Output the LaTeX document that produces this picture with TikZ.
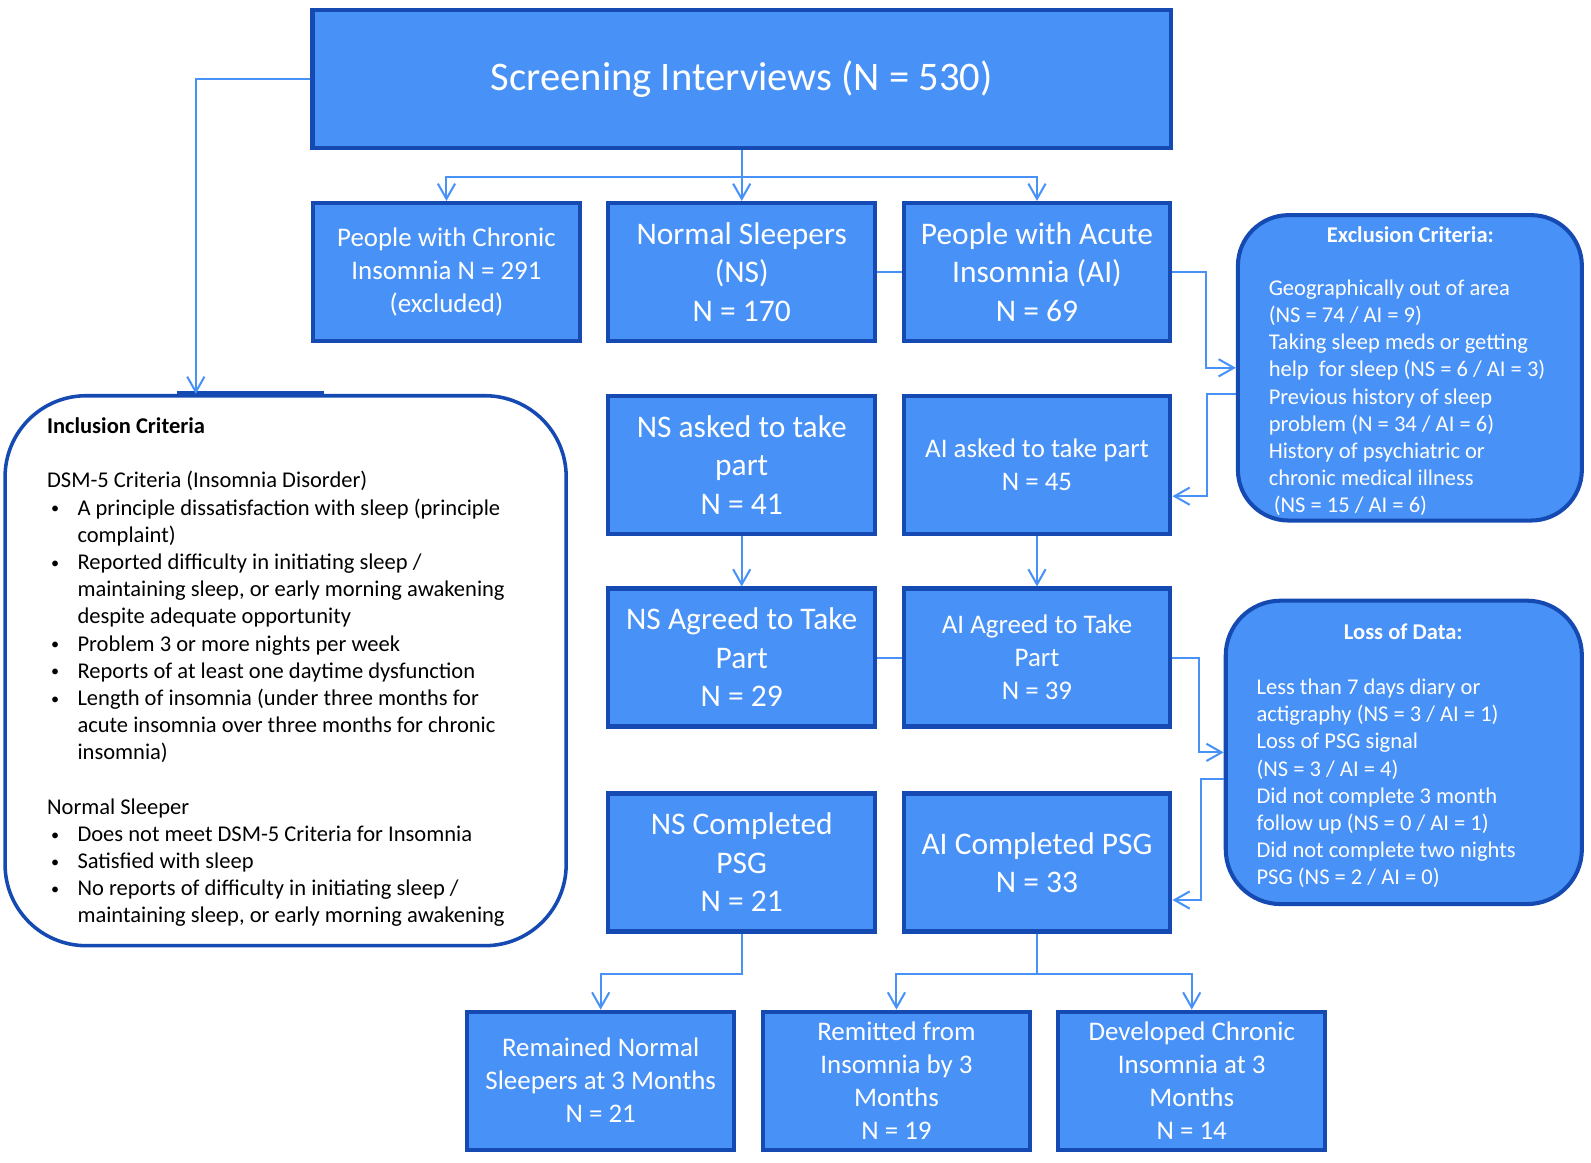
\documentclass[tikz,border=0pt]{standalone}
\usepackage{fontspec}
\setmainfont{Carlito}
\usetikzlibrary{arrows.meta,calc}
\definecolor{boxfill}{RGB}{72,145,246}
\definecolor{boxline}{RGB}{22,74,179}
\definecolor{connc}{RGB}{72,145,246}
\newcommand{\incbul}{\makebox[15pt][l]{\hspace*{2pt}\raisebox{0.6pt}{\fontsize{8pt}{8pt}\selectfont•}}}
\newcommand{\incind}{\hspace*{15pt}}
\begin{document}
\begin{tikzpicture}[x=0.5pt,y=-0.5pt,
  box/.style={draw=boxline, fill=boxfill, line width=2pt, minimum width=131.5pt, minimum height=68pt, inner sep=0pt, text=white, align=center},
  bigtxt/.style={font=\fontsize{15.5pt}{19pt}\selectfont},
  smalltxt/.style={font=\fontsize{13.25pt}{16.25pt}\selectfont},
  side/.style={draw=boxline, fill=boxfill, line width=2pt, rounded corners=25pt},
  sidetitle/.style={text=white, font=\fontsize{11.1pt}{13.4pt}\selectfont\bfseries, inner sep=0pt},
  sidetext/.style={text=white, font=\fontsize{11.1pt}{13.4pt}\selectfont, align=left, inner sep=0pt},
  conn/.style={draw=connc, line width=1pt},
  arr/.style={conn, -{Straight Barb[length=7.5pt,width=8.5pt]}}]
\useasboundingbox (0,0) rectangle (1568,1146);

% main boxes
\node[box, minimum width=423pt, font=\fontsize{20pt}{24pt}\selectfont] (scr) at (731,78) {\raisebox{-1pt}{Screening Interviews (N = 530)}};
\node[box, smalltxt] (chr) at (440,268) {People with Chronic\\Insomnia N = 291\\(excluded)};
\node[box, bigtxt] (ns) at (731,268) {Normal Sleepers\\(NS)\\N = 170};
\node[box, bigtxt] (ai) at (1022,268) {People with Acute\\Insomnia (AI)\\N = 69};
\node[box, bigtxt] (nsask) at (731,458) {NS asked to take\\part\\N = 41};
\node[box, smalltxt] (aiask) at (1022,458) {AI asked to take part\\N = 45};
\node[box, bigtxt] (nsagr) at (731,648) {NS Agreed to Take\\Part\\N = 29};
\node[box, smalltxt] (aiagr) at (1022,648) {AI Agreed to Take\\Part\\N = 39};
\node[box, bigtxt] (nscomp) at (731,850) {NS Completed\\PSG\\N = 21};
\node[box, bigtxt] (aicomp) at (1022,850) {AI Completed PSG\\N = 33};
\node[box, smalltxt] (rem) at (592,1065) {Remained Normal\\Sleepers at 3 Months\\N = 21};
\node[box, smalltxt] (remit) at (883.5,1065) {Remitted from\\Insomnia by 3\\Months\\N = 19};
\node[box, smalltxt] (dev) at (1174.5,1065) {Developed Chronic\\Insomnia at 3\\Months\\N = 14};

% exclusion criteria
\node[side, minimum width=169.5pt, minimum height=150.5pt] (exc) at (1389.5,362.5) {};
\node[sidetitle] (exct) at (1390,231) {Exclusion Criteria:};
\node[sidetext, anchor=west] (excl) at (1250,392) {Geographically out of area\\(NS = 74 / AI = 9)\\Taking sleep meds or getting\\help\ \ for sleep (NS = 6 / AI = 3)\\Previous history of sleep\\problem (N = 34 / AI = 6)\\History of psychiatric or\\chronic medical illness\\\hspace*{2.5pt}(NS = 15 / AI = 6)};

% loss of data
\node[side, rounded corners=27pt, minimum width=175.5pt, minimum height=149.5pt] (loss) at (1383.5,741.5) {};
\node[sidetitle] (losst) at (1383,623) {Loss of Data:};
\node[sidetext, anchor=west] (lossl) at (1238,772) {Less than 7 days diary or\\actigraphy (NS = 3 / AI = 1)\\Loss of PSG signal\\(NS = 3 / AI = 4)\\Did not complete 3 month\\follow up (NS = 0 / AI = 1)\\Did not complete two nights\\PSG (NS = 2 / AI = 0)};

% inclusion criteria
\node[draw=boxline, line width=1.75pt, fill=white, rounded corners=40pt, minimum width=276.5pt, minimum height=271pt] (inc) at (281.5,661) {};
\draw[boxline, line width=2.75pt] ($(inc.north)+(-107.5,0)$) -- ($(inc.north)+(37.5,0)$);
\node[anchor=west, align=left, inner sep=0pt, font=\fontsize{11.1pt}{13.4pt}\selectfont] (incl) at (46,662.5) {\textbf{Inclusion Criteria}\\
\mbox{}\\
DSM-5 Criteria (Insomnia Disorder)\\
\incbul A principle dissatisfaction with sleep (principle\\
\incind complaint)\\
\incbul Reported difficulty in initiating sleep /\\
\incind maintaining sleep, or early morning awakening\\
\incind despite adequate opportunity\\
\incbul Problem 3 or more nights per week\\
\incbul Reports of at least one daytime dysfunction\\
\incbul Length of insomnia (under three months for\\
\incind acute insomnia over three months for chronic\\
\incind insomnia)\\
\mbox{}\\
Normal Sleeper\\
\incbul Does not meet DSM-5 Criteria for Insomnia\\
\incbul Satisfied with sleep\\
\incbul No reports of difficulty in initiating sleep /\\
\incind maintaining sleep, or early morning awakening};

% connectors
\coordinate (incx) at (193,0);
\draw[arr] (scr.west) -| (incx |- inc.north);
\draw[arr] (scr.south) -- (ns.north);
\draw[arr] (scr.south) -- ++(0,26) -| (chr.north);
\draw[arr] (scr.south) -- ++(0,26) -| (ai.north);
\draw[conn] (ns.east) -- (ai.west);
\draw[arr] (ai.east) -- ++(33,0) |- (exc.west);
\draw[arr] ([yshift=-12.75pt]exc.west) -- ++(-28,0) |- ([yshift=-15.5pt]aiask.east);
\draw[arr] (nsask.south) -- (nsagr.north);
\draw[arr] (aiask.south) -- (aiagr.north);
\draw[conn] (nsagr.east) -- (aiagr.west);
\draw[arr] (aiagr.east) -- ++(26,0) |- (loss.west);
\draw[arr] ([yshift=-13.25pt]loss.west) -- ++(-22,0) |- ([yshift=-18.5pt]aicomp.east);
\draw[arr] (nscomp.south) -- ++(0,40) -| (rem.north);
\draw[arr] (aicomp.south) -- ++(0,40) -| (remit.north);
\draw[arr] (aicomp.south) -- ++(0,40) -| (dev.north);
\end{tikzpicture}
\end{document}
